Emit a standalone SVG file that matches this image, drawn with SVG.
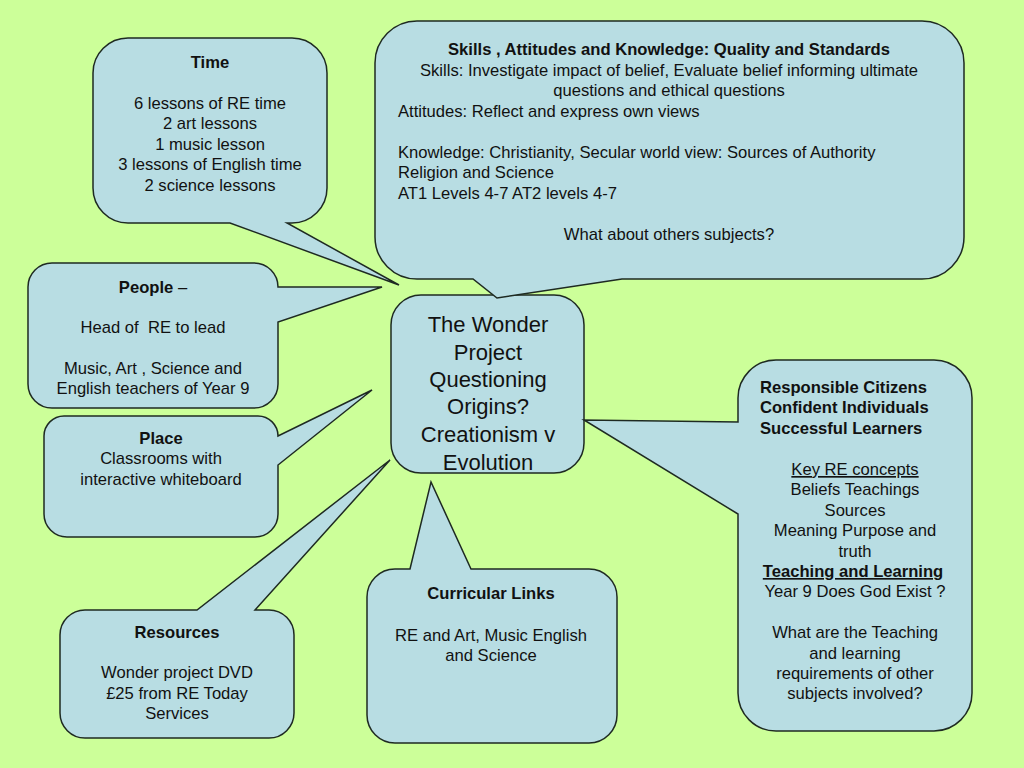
<svg xmlns="http://www.w3.org/2000/svg" width="1024" height="768" viewBox="0 0 1024 768">
<style>
.bg{fill:#ccff99}
.box{fill:#b8dde3;stroke:#1e2a22;stroke-width:1.5;stroke-linejoin:miter}
text{font-family:"Liberation Sans",Arial,sans-serif;font-size:16.6px;fill:#111}
.c{text-anchor:middle}
.b{font-weight:bold}
.big{font-size:22px}
.u{text-decoration:underline}
</style>
<rect class="bg" x="0" y="0" width="1024" height="768"/>
<g id="connectors"></g>
<g id="center">
<rect class="box" x="391" y="295" width="193" height="178" rx="30" ry="30"/>
<text class="c big" x="488"><tspan x="488" y="332">The Wonder</tspan><tspan x="488" y="360">Project</tspan><tspan x="488" y="387">Questioning</tspan><tspan x="488" y="414">Origins?</tspan><tspan x="488" y="442">Creationism v</tspan><tspan x="488" y="470">Evolution</tspan></text>
</g>
<g id="time">
<path class="box" d="M128,38 H292 A35,35 0 0 1 327,73 V188 A35,35 0 0 1 292,223 L287,223 L399,285 L230,223 H128 A35,35 0 0 1 93,188 V73 A35,35 0 0 1 128,38 Z"/>
<text class="c"><tspan class="b" x="210" y="68">Time</tspan><tspan x="210" y="109">6 lessons of RE time</tspan><tspan x="210" y="129">2 art lessons</tspan><tspan x="210" y="150">1 music lesson</tspan><tspan x="210" y="170">3 lessons of English time</tspan><tspan x="210" y="191">2 science lessons</tspan></text>
</g>
<g id="skills">
<path class="box" d="M417,21 H922 A42,42 0 0 1 964,63 V237 A42,42 0 0 1 922,279 H622 L497,298 L473,279 H417 A42,42 0 0 1 375,237 V63 A42,42 0 0 1 417,21 Z"/>
<text class="c b" x="669" y="55">Skills , Attitudes and Knowledge: Quality and Standards</text>
<text class="c" x="669" y="76">Skills: Investigate impact of belief, Evaluate belief informing ultimate</text>
<text class="c" x="669" y="96">questions and ethical questions</text>
<text x="398" y="117">Attitudes: Reflect and express own views</text>
<text x="398" y="158">Knowledge: Christianity, Secular world view: Sources of Authority</text>
<text x="398" y="178">Religion and Science</text>
<text x="398" y="199">AT1 Levels 4-7 AT2 levels 4-7</text>
<text class="c" x="669" y="240">What about others subjects?</text>
</g>
<g id="people">
<path class="box" d="M52,263 H254 A24,24 0 0 1 278,287 L382,287 L278,322 V384 A24,24 0 0 1 254,408 H52 A24,24 0 0 1 28,384 V287 A24,24 0 0 1 52,263 Z"/>
<text class="c" x="153" y="293"><tspan class="b">People</tspan> –</text>
<text class="c" x="153" y="333" xml:space="preserve">Head of  RE to lead</text>
<text class="c"><tspan x="153" y="374">Music, Art , Science and</tspan><tspan x="153" y="394">English teachers of Year 9</tspan></text>
</g>
<g id="place">
<path class="box" d="M64,416 H258 A20,20 0 0 1 278,436 L372,390 L278,465 V514 A23,23 0 0 1 255,537 H67 A23,23 0 0 1 44,514 V436 A20,20 0 0 1 64,416 Z"/>
<text class="c"><tspan class="b" x="161" y="444">Place</tspan><tspan x="161" y="464">Classrooms with</tspan><tspan x="161" y="485">interactive whiteboard</tspan></text>
</g>
<g id="resources">
<path class="box" d="M85,610 H197 L390,460 L255,610 H269 A25,25 0 0 1 294,635 V713 A25,25 0 0 1 269,738 H85 A25,25 0 0 1 60,713 V635 A25,25 0 0 1 85,610 Z"/>
<text class="c"><tspan class="b" x="177" y="638">Resources</tspan><tspan x="177" y="678">Wonder project DVD</tspan><tspan x="177" y="699">£25 from RE Today</tspan><tspan x="177" y="719">Services</tspan></text>
</g>
<g id="curricular">
<path class="box" d="M395,569 H410 L431,482 L471,569 H589 A28,28 0 0 1 617,597 V715 A28,28 0 0 1 589,743 H395 A28,28 0 0 1 367,715 V597 A28,28 0 0 1 395,569 Z"/>
<text class="c"><tspan class="b" x="491" y="599">Curricular Links</tspan><tspan x="491" y="641">RE and Art, Music English</tspan><tspan x="491" y="661">and Science</tspan></text>
</g>
<g id="outcomes">
<path class="box" d="M776,360 H934 A38,38 0 0 1 972,398 V693 A38,38 0 0 1 934,731 H776 A38,38 0 0 1 738,693 V514 L584,420 L738,422 V398 A38,38 0 0 1 776,360 Z"/>
<text class="b"><tspan x="760" y="393">Responsible Citizens</tspan><tspan x="760" y="413">Confident Individuals</tspan><tspan x="760" y="434">Successful Learners</tspan></text>
<text class="c u" x="855" y="475">Key RE concepts</text>
<text class="c"><tspan x="855" y="495">Beliefs Teachings</tspan><tspan x="855" y="516">Sources</tspan><tspan x="855" y="536">Meaning Purpose and</tspan><tspan x="855" y="557">truth</tspan></text>
<text class="c b u" x="853" y="577">Teaching and Learning</text>
<text class="c"><tspan x="855" y="597">Year 9 Does God Exist ?</tspan><tspan x="855" y="638">What are the Teaching</tspan><tspan x="855" y="659">and learning</tspan><tspan x="855" y="679">requirements of other</tspan><tspan x="855" y="699">subjects involved?</tspan></text>
</g>
</svg>
